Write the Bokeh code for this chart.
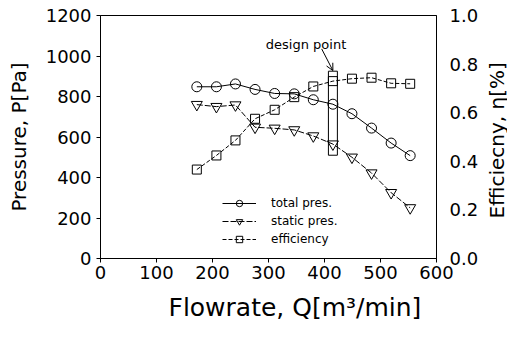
import math
from bokeh.plotting import figure
from bokeh.models import (Range1d, LinearAxis, FixedTicker, PrintfTickFormatter,
                          Legend, LegendItem, Arrow, OpenHead, Label, Title)
from bokeh.embed import file_html
from bokeh.resources import INLINE

# ---- data ----
flow = [172, 207, 241, 276, 311, 346, 380, 415, 449, 484, 519, 553]
total_pres = [848, 848, 862, 835, 815, 813, 784, 762, 715, 644, 570, 508]
static_pres = [760, 750, 758, 648, 643, 635, 605, 565, 500, 422, 325, 250]
efficiency = [0.366, 0.424, 0.486, 0.575, 0.612, 0.664, 0.708, 0.730, 0.740, 0.744, 0.721, 0.719]

x_ticks = [0, 100, 200, 300, 400, 500, 600]
p_ticks = [0, 200, 400, 600, 800, 1000, 1200]
eff_ticks = [0.0, 0.2, 0.4, 0.6, 0.8, 1.0]

design_flow = 415
design_half_width = 8
design_p_low, design_p_high = 510, 925
design_label = "design point"
design_label_pos = (367, 1057)
design_arrow_tail = (395, 1035)

x_title = "Flowrate, Q[m\u00b3/min]"
y_title = "Pressure, P[Pa]"
y2_title = "Efficiecny, \u03b7[%]"
y2_title_eff = 0.486

FONT = "DejaVu Sans"

p = figure(width=507, height=331, x_range=Range1d(0, 600), y_range=Range1d(0, 1200),
           output_backend="svg", toolbar_location=None,
           min_border_left=100, min_border_right=71, min_border_top=15, min_border_bottom=73)
p.extra_y_ranges = {"eff": Range1d(0, 1.0)}
p.xgrid.visible = False
p.ygrid.visible = False
p.outline_line_color = "black"
p.outline_line_alpha = 1.0
p.outline_line_width = 1
p.background_fill_color = "white"
p.border_fill_color = "white"

right = LinearAxis(y_range_name="eff")
p.add_layout(right, "right")

def style(ax, size="18px"):
    ax.axis_line_color = "black"
    ax.major_tick_line_color = "black"
    ax.minor_tick_line_color = None
    ax.major_label_text_font = FONT
    ax.major_label_text_font_size = size
    ax.major_label_text_color = "black"
    ax.axis_label_text_font = FONT
    ax.axis_label_text_font_style = "normal"
    ax.axis_label_text_color = "black"

xa = p.xaxis[0]
style(xa)
xa.ticker = FixedTicker(ticks=x_ticks)
xa.major_tick_out = 4
xa.major_tick_in = 0
xa.major_label_standoff = 3

ya = p.yaxis[0]
style(ya)
ya.ticker = FixedTicker(ticks=p_ticks)
ya.major_tick_out = 4
ya.major_tick_in = 0
ya.major_label_standoff = 5
ya.axis_label = y_title
ya.axis_label_text_font_size = "20px"
ya.axis_label_standoff = 12

style(right)
right.ticker = FixedTicker(ticks=eff_ticks)
right.formatter = PrintfTickFormatter(format="%.1f")
right.major_tick_out = 0
right.major_tick_in = 0
right.major_label_standoff = 13

# right title, reading bottom-to-top, placed in the right side panel
y2 = Label(x=496, y=y2_title_eff, x_units="canvas", y_units="data", y_range_name="eff",
           text=y2_title, angle=math.pi / 2, text_font=FONT, text_font_size="20px",
           text_align="center", text_baseline="middle", text_color="black")
p.add_layout(y2, "right")

# bottom title, offset to the right as in the reference
xt = Title(text=x_title, align="left", offset=68, standoff=19,
           text_font=FONT, text_font_size="25px", text_font_style="normal", text_color="black")
p.add_layout(xt, "below")

# series
l1 = p.line(flow, total_pres, line_color="black", line_width=1)
s1 = p.scatter(flow, total_pres, marker="circle", size=10, fill_color=None, line_color="black")
l2 = p.line(flow, static_pres, line_color="black", line_width=1, line_dash="6 2")
s2 = p.scatter(flow, static_pres, marker="inverted_triangle", size=11, fill_color=None, line_color="black")
l3 = p.line(flow, efficiency, line_color="black", line_width=1, line_dash="4 2", y_range_name="eff")
s3 = p.scatter(flow, efficiency, marker="square", size=9, fill_color=None, line_color="black", y_range_name="eff")

# design point box
p.quad(left=[design_flow - design_half_width], right=[design_flow + design_half_width],
       bottom=[design_p_low], top=[design_p_high], fill_color=None, line_color="black", line_width=1)
p.add_layout(Arrow(end=OpenHead(size=7, line_color="black", line_width=1),
                   x_start=design_arrow_tail[0], y_start=design_arrow_tail[1],
                   x_end=design_flow, y_end=design_p_high + 3,
                   line_color="black", line_width=1))
p.add_layout(Label(x=design_label_pos[0], y=design_label_pos[1], text=design_label,
                   text_font=FONT, text_font_size="13px", text_align="center",
                   text_baseline="middle", text_color="black"))

legend = Legend(items=[LegendItem(label="total pres.", renderers=[l1, s1]),
                       LegendItem(label="static pres.", renderers=[l2, s2]),
                       LegendItem(label="efficiency", renderers=[l3, s3])],
                location=(122, 11))
legend.border_line_color = None
legend.background_fill_alpha = 0
legend.padding = 0
legend.margin = 0
legend.spacing = 2
legend.glyph_width = 34
legend.glyph_height = 16
legend.label_height = 16
legend.label_standoff = 15
legend.label_text_font = FONT
legend.label_text_font_size = "12px"
legend.label_text_color = "black"
p.add_layout(legend)

open("out.html", "w").write(file_html(p, INLINE))
